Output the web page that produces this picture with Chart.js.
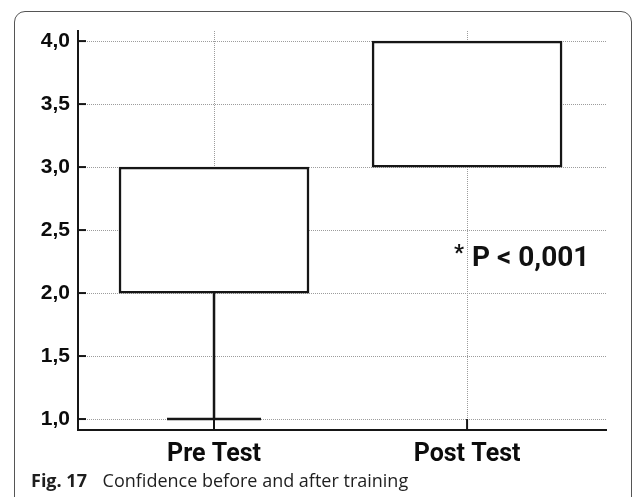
<!DOCTYPE html>
<html>
<head>
<meta charset="utf-8">
<script src="https://cdn.jsdelivr.net/npm/chart.js@4/dist/chart.umd.min.js"></script>
<style>
  html, body { margin: 0; padding: 0; background: #fff; }
  #wrap { position: relative; width: 633px; height: 497px; overflow: hidden; }
  #frame {
    position: absolute; left: 14px; top: 11px; width: 618px; height: 540px;
    border: 1.5px solid #555; border-radius: 11px; box-sizing: border-box;
  }
  #chart { position: absolute; left: 0; top: 0; }
  #pval {
    position: absolute; left: 454px; top: 240px;
    font: bold 28px Roboto, "Liberation Sans", sans-serif; color: #111; white-space: nowrap;
  }
  #pval .star { font-size: 22px; vertical-align: 6px; margin-right: 8px; }
  #caption {
    position: absolute; left: 31px; top: 468px;
    font: 18px "Open Sans", sans-serif; color: #1e1e1e; white-space: nowrap;
  }
  #caption b { font-weight: 700; margin-right: 11px; }
</style>
</head>
<body>
<div id="wrap">
  <div id="frame"></div>
  <canvas id="chart" width="633" height="497"></canvas>
  <div id="pval"><span class="star">*</span>P &lt; 0,001</div>
  <div id="caption"><b>Fig. 17</b> Confidence before and after training</div>
</div>
<script>
// box plot values per group
const categories = ['Pre Test', 'Post Test'];
const q1 = [2.0, 3.0];
const q3 = [3.0, 4.0];
const whiskerLow = [1.0, 3.0];
const whiskerHigh = [3.0, 4.0];

const yTicks = [1.0, 1.5, 2.0, 2.5, 3.0, 3.5, 4.0];
const yTickLabels = ['1,0', '1,5', '2,0', '2,5', '3,0', '3,5', '4,0'];

const ink = '#161616';

// whiskers + caps, and tick marks pointing into the plot
const boxExtras = {
  id: 'boxExtras',
  afterDatasetsDraw(chart) {
    const { ctx, scales: { x, y }, chartArea } = chart;
    ctx.save();
    ctx.strokeStyle = ink;
    ctx.lineWidth = 2.5;
    const capHalf = 47;
    categories.forEach((c, i) => {
      const px = x.getPixelForValue(i + 1);
      const segs = [];
      if (whiskerLow[i] < q1[i]) segs.push([q1[i], whiskerLow[i]]);
      if (whiskerHigh[i] > q3[i]) segs.push([q3[i], whiskerHigh[i]]);
      segs.forEach(([from, to]) => {
        ctx.beginPath();
        ctx.moveTo(px, y.getPixelForValue(from));
        ctx.lineTo(px, y.getPixelForValue(to));
        ctx.stroke();
        ctx.beginPath();
        ctx.moveTo(px - capHalf, y.getPixelForValue(to));
        ctx.lineTo(px + capHalf, y.getPixelForValue(to));
        ctx.stroke();
      });
    });
    // inward ticks
    ctx.lineWidth = 2;
    yTicks.forEach(v => {
      const py = y.getPixelForValue(v);
      ctx.beginPath();
      ctx.moveTo(chartArea.left, py);
      ctx.lineTo(chartArea.left + 8, py);
      ctx.stroke();
    });
    categories.forEach((c, i) => {
      const px = x.getPixelForValue(i + 1);
      ctx.beginPath();
      ctx.moveTo(px, chartArea.bottom);
      ctx.lineTo(px, chartArea.bottom - 11);
      ctx.stroke();
    });
    ctx.restore();
  }
};

new Chart(document.getElementById('chart'), {
  type: 'bar',
  data: {
    datasets: [{
      data: categories.map((c, i) => ({ x: i + 1, y: [q1[i], q3[i]] })),
      backgroundColor: '#ffffff',
      borderColor: ink,
      borderWidth: 2.5,
      borderSkipped: false,
      barThickness: 190
    }]
  },
  options: {
    responsive: false,
    animation: false,
    events: [],
    layout: { padding: { left: 0, top: 31, right: 27, bottom: 27 } },
    plugins: { legend: { display: false }, tooltip: { enabled: false } },
    scales: {
      x: {
        type: 'linear',
        min: 0.4625,
        max: 2.549,
        offset: false,
        afterBuildTicks: s => { s.ticks = categories.map((c, i) => ({ value: i + 1 })); },
        afterFit: s => { s.height = 40; },
        ticks: {
          callback: v => categories[v - 1],
          color: '#0c0c0c',
          padding: 10,
          font: { family: 'Roboto', weight: 'bold', size: 25 }
        },
        grid: { color: '#9c9c9c', lineWidth: 1, drawTicks: false, offset: false },
        border: { color: ink, width: 2, dash: [1, 1] }
      },
      y: {
        min: 0.913,
        max: 4.08,
        afterBuildTicks: s => { s.ticks = yTicks.map(v => ({ value: v })); },
        afterFit: s => { s.width = 78; },
        ticks: {
          callback: (v) => yTickLabels[yTicks.indexOf(v)],
          color: '#0c0c0c',
          padding: 8,
          font: { family: '"Liberation Sans", Arial', weight: 'bold', size: 21 }
        },
        grid: { color: '#9c9c9c', lineWidth: 1, drawTicks: false },
        border: { color: ink, width: 2, dash: [1, 1] }
      }
    }
  },
  plugins: [boxExtras]
});
</script>
</body>
</html>
